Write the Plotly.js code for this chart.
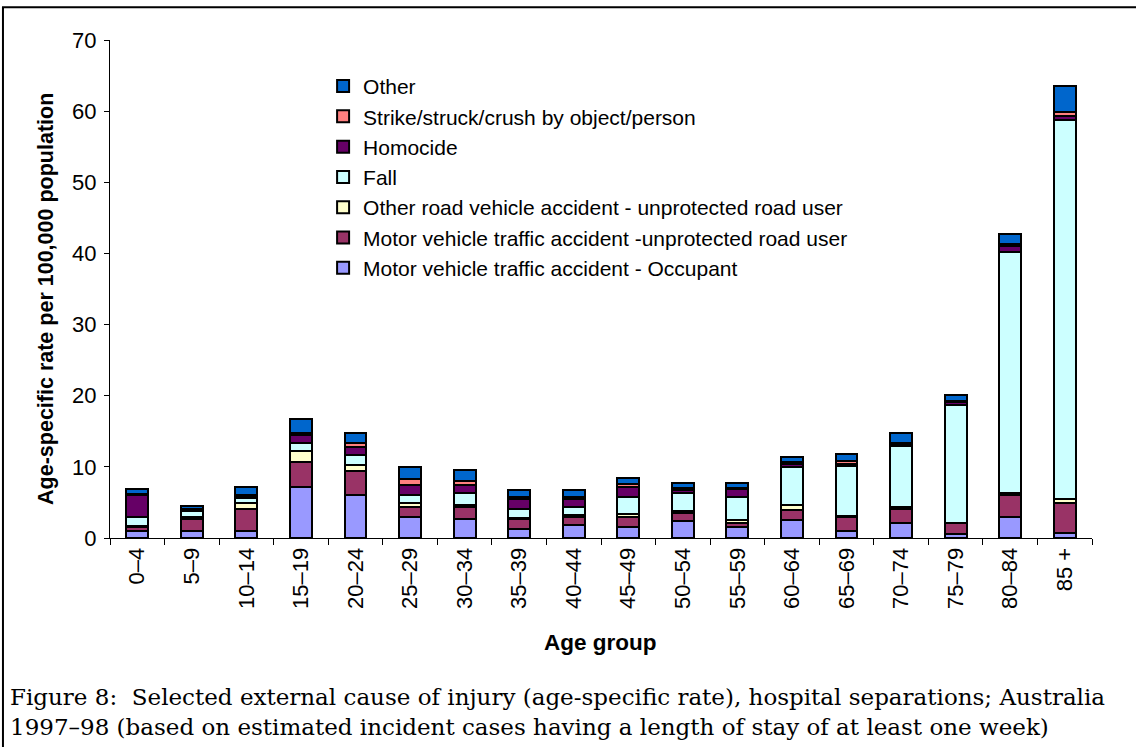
<!DOCTYPE html>
<html>
<head>
<meta charset="utf-8">
<script src="https://cdn.plot.ly/plotly-3.0.1.min.js"></script>
<style>
html,body{margin:0;padding:0;background:#fff;}
#chart{width:1136px;height:747px;}
</style>
</head>
<body>
<div id="chart"></div>
<script>
const categories = ['0–4','5–9','10–14','15–19','20–24','25–29','30–34','35–39','40–44','45–49','50–54','55–59','60–64','65–69','70–74','75–79','80–84','85 +'];

const occupant    = [1.0, 1.0, 1.0, 7.2, 6.05, 2.9, 2.7, 1.3, 1.8, 1.55, 2.4, 1.5, 2.6, 1.0, 2.15, 0.5, 3.0, 0.75];
const unprotected = [0.5, 1.7, 3.1, 3.5, 3.35, 1.4, 1.6, 1.4, 1.1, 1.35, 1.1, 0.55, 1.4, 2.0, 1.95, 1.6, 3.05, 4.15];
const otherRoad   = [0.2, 0.2, 0.8, 1.5, 0.9, 0.6, 0.3, 0.1, 0.3, 0.5, 0.3, 0.55, 0.65, 0.1, 0.3, 0.05, 0.3, 0.6];
const fall        = [1.3, 0.9, 0.7, 1.1, 1.4, 1.15, 1.7, 1.3, 1.1, 2.3, 2.5, 3.2, 5.3, 7.0, 8.5, 16.5, 33.8, 53.2];
const homicide    = [3.0, 0.2, 0.3, 1.2, 1.05, 1.4, 1.15, 1.4, 1.15, 1.4, 0.4, 1.05, 0.4, 0.3, 0.15, 0.5, 0.85, 0.55];
const strike      = [0.2, 0.1, 0.1, 0.2, 0.65, 0.8, 0.6, 0.2, 0.3, 0.55, 0.3, 0.2, 0.4, 0.4, 0.3, 0.1, 0.3, 0.7];
const other       = [0.7, 0.4, 1.2, 2.0, 1.4, 1.75, 1.5, 1.0, 1.0, 0.75, 0.8, 0.75, 0.6, 1.0, 1.4, 0.9, 1.5, 3.6];

const seriesNames = [
  'Motor vehicle traffic accident - Occupant',
  'Motor vehicle traffic accident -unprotected road user',
  'Other road vehicle accident - unprotected road user',
  'Fall',
  'Homocide',
  'Strike/struck/crush by object/person',
  'Other'
];
const seriesValues = [occupant, unprotected, otherRoad, fall, homicide, strike, other];
const seriesColors = ['#9999FF', '#993366', '#FFFFCC', '#CCFFFF', '#660066', '#FF8080', '#0066CC'];

const xTitle = 'Age group';
const yTitle = 'Age-specific rate per 100,000 population';
const captionLines = [
  'Figure 8:  Selected external cause of injury (age-specific rate), hospital separations; Australia',
  '1997–98 (based on estimated incident cases having a length of stay of at least one week)'
];

const font = 'Liberation Sans, Arial, sans-serif';
const serif = 'DejaVu Serif, serif';

const traces = seriesNames.map((name, i) => ({
  type: 'bar',
  name: name,
  x: categories,
  y: seriesValues[i],
  marker: {color: seriesColors[i], line: {color: '#000000', width: 2}},
  hoverinfo: 'x+y+name'
}));

const annotations = captionLines.map((t, i) => ({
  xref: 'paper', yref: 'paper',
  x: -0.104, y: i === 0 ? -0.319 : -0.3795,
  xanchor: 'left', yanchor: 'middle',
  align: 'left',
  showarrow: false,
  text: t,
  font: {family: serif, size: 23, color: '#000'}
}));
annotations.push({
  xref: 'paper', yref: 'paper',
  x: 0.499, y: -0.209, xanchor: 'center', yanchor: 'middle',
  showarrow: false,
  text: '<b>' + xTitle + '</b>',
  font: {family: font, size: 22.5, color: '#000'}
});
annotations.push({
  xref: 'paper', yref: 'paper',
  x: -0.0652, y: 0.48, xanchor: 'center', yanchor: 'middle',
  textangle: -90,
  showarrow: false,
  text: '<b>' + yTitle + '</b>',
  font: {family: font, size: 21.5, color: '#000'}
});

const layout = {
  width: 1136,
  height: 747,
  margin: {l: 110, r: 44, t: 40, b: 209},
  paper_bgcolor: '#ffffff',
  plot_bgcolor: '#ffffff',
  barmode: 'stack',
  bargap: 0.6,
  font: {family: font, size: 20, color: '#000'},
  showlegend: true,
  legend: {
    x: 0.217, y: 0.948, xanchor: 'left', yanchor: 'top',
    traceorder: 'reversed',
    bgcolor: 'rgba(0,0,0,0)',
    font: {family: font, size: 21, color: '#000'},
    tracegroupgap: 0
  },
  xaxis: {
    type: 'category',
    tickangle: -90,
    tickson: 'boundaries',
    ticks: 'outside',
    ticklen: 6,
    tickcolor: '#000',
    showline: true,
    linecolor: '#000',
    linewidth: 1,
    showgrid: false,
    zeroline: false,
    automargin: false,
    tickfont: {family: font, size: 22, color: '#000'}
  },
  yaxis: {
    range: [0, 70],
    dtick: 10,
    ticks: 'outside',
    ticklen: 5,
    tickcolor: '#000',
    showline: true,
    linecolor: '#000',
    linewidth: 1,
    showgrid: false,
    zeroline: false,
    automargin: false,
    ticklabelstandoff: 3,
    tickfont: {family: font, size: 22, color: '#000'}
  },
  annotations: annotations,
  shapes: [{
    type: 'rect', xref: 'paper', yref: 'paper',
    x0: -0.109, x1: 1.06, y0: -0.5, y1: 1.066,
    line: {color: '#000', width: 2},
    fillcolor: 'rgba(0,0,0,0)'
  }]
};

Plotly.newPlot('chart', traces, layout, {displayModeBar: false, responsive: false});
</script>
</body>
</html>
